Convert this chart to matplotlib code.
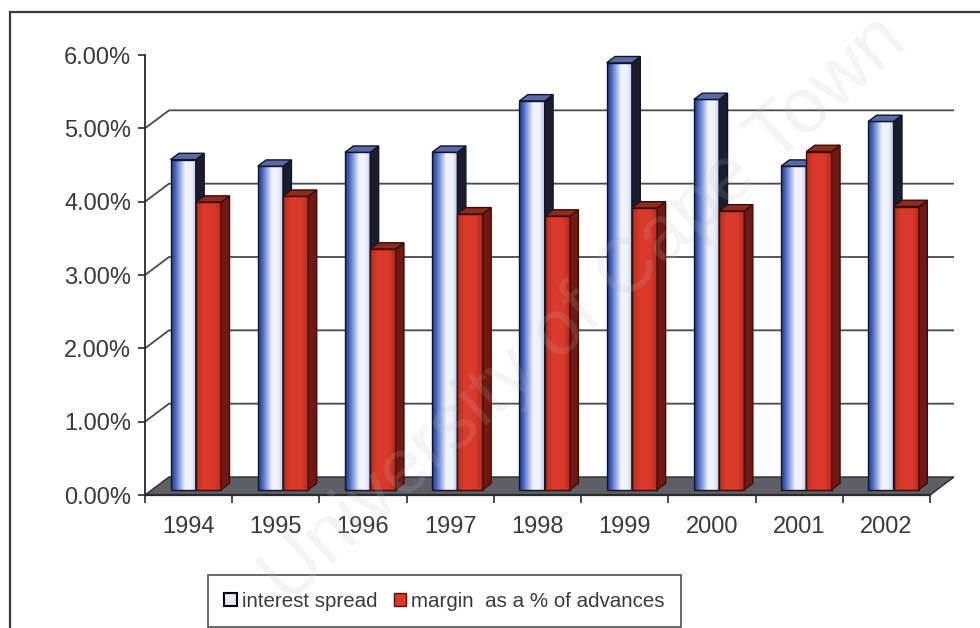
import numpy as np
import matplotlib.pyplot as plt
from matplotlib.patches import Polygon, Rectangle, Patch
from matplotlib.colors import LinearSegmentedColormap

plt.rcParams['font.family'] = ['Liberation Sans', 'DejaVu Sans']

# data
years = ['1994', '1995', '1996', '1997', '1998', '1999', '2000', '2001', '2002']
interest_spread = [4.50, 4.41, 4.60, 4.60, 5.30, 5.82, 5.32, 4.41, 5.02]
margin = [3.92, 4.00, 3.28, 3.76, 3.73, 3.84, 3.80, 4.61, 3.86]
y_ticks = [0, 1, 2, 3, 4, 5, 6]
y_labels = ['0.00%', '1.00%', '2.00%', '3.00%', '4.00%', '5.00%', '6.00%']
series_names = ['interest spread', 'margin  as a % of advances']

W, H = 980, 628
fig = plt.figure(figsize=(W / 100, H / 100), dpi=100)
fig.patch.set_facecolor('white')

# outer chart border (only top and left edge inside the image)
fig.patches.append(Rectangle((10 / W, -0.05), 1.2, 1 - 12 / H + 0.05, transform=fig.transFigure,
                             fill=False, edgecolor='#3a3a3a', lw=1.6))

ax = fig.add_axes([145 / W, 1 - 495 / H, 785 / W, 440 / H])
n = len(years)
ax.set_xlim(0, n)
ax.set_ylim(0, 6)

# depth of the 3d box in data units
DX = 24 / (785 / n)
DY = 18 / (440 / 6)

# floor
ax.add_patch(Polygon([(0, 0), (n, 0), (n + DX, DY), (DX, DY)], closed=True,
                     facecolor='#5e5e66', edgecolor='#2a2a2a', lw=1.0, clip_on=False, zorder=1))

# side wall diagonals + back wall gridlines
for k in y_ticks[1:-1]:
    ax.plot([0, DX, n + DX], [k, k + DY, k + DY], color='#4a4a4a', lw=1.3,
            clip_on=False, zorder=1.5, solid_capstyle='butt')

blue_cmap = LinearSegmentedColormap.from_list(
    'bl', [(0, '#1a3590'), (0.18, '#4d6cc4'), (0.55, '#f3f5fb'), (0.8, '#eef1f9'), (1, '#b9c5e6')])
red_cmap = LinearSegmentedColormap.from_list(
    'rd', [(0, '#b82a1c'), (0.3, '#dc3b2b'), (0.7, '#d8392a'), (1, '#b52a1c')])
grad = np.linspace(0, 1, 64).reshape(1, -1)

d0, d1 = 0.30, 0.65   # front / back depth of the columns
bw = 0.29             # column width
ddx, ddy = (d1 - d0) * DX, (d1 - d0) * DY


def draw_bar(x0, v, cmap, side_color, top_color, edge, z):
    fx = x0 + d0 * DX
    fy = d0 * DY
    ax.imshow(grad, cmap=cmap, extent=(fx, fx + bw, fy, fy + v), aspect='auto',
              interpolation='bilinear', zorder=z, clip_on=False)
    ax.add_patch(Rectangle((fx, fy), bw, v, fill=False, edgecolor=edge, lw=1.0, zorder=z + 0.001,
                           clip_on=False))
    ax.add_patch(Polygon([(fx + bw, fy), (fx + bw + ddx, fy + ddy), (fx + bw + ddx, fy + v + ddy),
                          (fx + bw, fy + v)], closed=True, facecolor=side_color, edgecolor=edge,
                         lw=1.0, zorder=z + 0.002, clip_on=False))
    ax.add_patch(Polygon([(fx, fy + v), (fx + bw, fy + v), (fx + bw + ddx, fy + v + ddy),
                          (fx + ddx, fy + v + ddy)], closed=True, facecolor=top_color, edgecolor=edge,
                         lw=1.0, zorder=z + 0.003, clip_on=False))


for i in range(n):
    z = 3 + i * 0.1
    draw_bar(i + 0.21, interest_spread[i], blue_cmap, '#1c1c2c', '#5a6aa8', '#10152a', z)
    draw_bar(i + 0.50, margin[i], red_cmap, '#6e1a12', '#8e2a1e', '#3a0e08', z + 0.05)

ax.set_xlim(0, n)
ax.set_ylim(0, 6)

# axes
for s in ['top', 'right']:
    ax.spines[s].set_visible(False)
ax.spines['left'].set_color('#2a2a2a')
ax.spines['bottom'].set_color('#2a2a2a')
ax.spines['left'].set_linewidth(1.3)
ax.spines['bottom'].set_linewidth(1.6)
ax.spines['left'].set_zorder(2)
ax.set_facecolor('none')

ax.set_yticks(y_ticks)
ax.set_yticklabels(y_labels)
ax.tick_params(axis='y', length=5, width=1.2, color='#2a2a2a', pad=5, labelsize=17, labelcolor='#3a3a3a')

ax.set_xticks(np.arange(n + 1))
ax.set_xticklabels([])
ax.set_xticks(np.arange(n) + 0.5, minor=True)
ax.set_xticklabels(years, minor=True)
ax.tick_params(axis='x', which='major', length=6, width=1.2, color='#2a2a2a')
ax.tick_params(axis='x', which='minor', length=0, pad=15, labelsize=17, labelcolor='#3a3a3a')

# legend
handles = [Patch(facecolor='#e6eaf6', edgecolor='black', lw=1.5),
           Patch(facecolor='#d8392a', edgecolor='#5a1008', lw=1.0)]
leg = fig.legend(handles, series_names, loc='lower left', bbox_to_anchor=(208 / W, 1 / H),
                 borderaxespad=0, ncol=2, fontsize=14.8, frameon=True, fancybox=False,
                 handlelength=0.6, handleheight=0.6, handletextpad=0.25, columnspacing=0.8,
                 borderpad=0.8, labelcolor='#3a3a3a')
leg.get_frame().set_edgecolor('#222222')
leg.get_frame().set_linewidth(1.2)

# watermark
fig.text(585 / W, 1 - 310 / H, 'University of Cape Town', rotation=42, fontsize=56,
         color='#bdbdbd', alpha=0.17, ha='center', va='center', zorder=20)

fig.savefig('out.png', dpi=100)
